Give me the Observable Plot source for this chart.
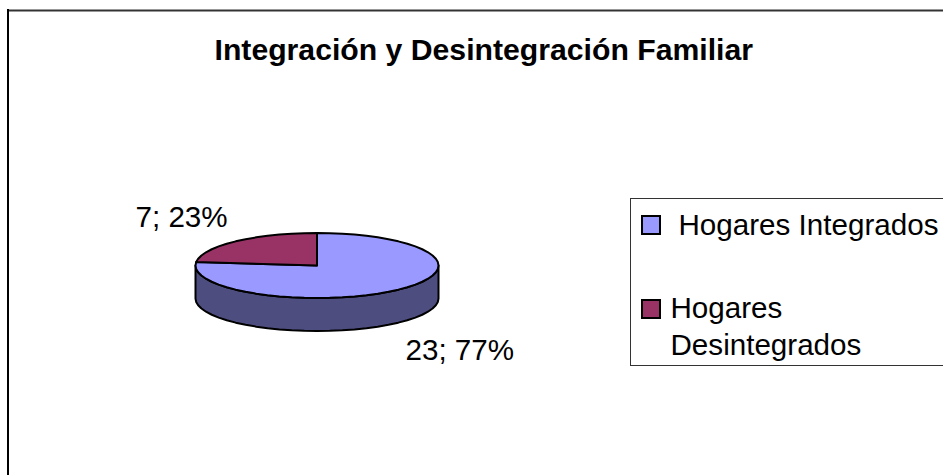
<!DOCTYPE html>
<html>
<head>
<meta charset="utf-8">
<script src="https://cdn.jsdelivr.net/npm/d3@7"></script>
<script src="https://cdn.jsdelivr.net/npm/@observablehq/plot@0.6"></script>
<style>html,body{margin:0;padding:0;background:#fff}svg{display:block}</style>
</head>
<body>
<div id="chart"></div>
<script>
const chartTitle = "Integración y Desintegración Familiar";
const categories = ["Hogares Integrados", "Hogares Desintegrados"];
const values = [23, 7];
const colors = ["#9999ff", "#993366"];
const wallColor = "#4d4d80";

const W = 943, H = 475, FONT = "Liberation Sans, Arial, sans-serif";
const cx = 316.5, cy = 265, rx = 121.5, ry = 32.5, depth = 33, step = 6;
const total = d3.sum(values);
const px = a => cx + rx * Math.sin(a * Math.PI / 180);
const py = a => cy - ry * Math.cos(a * Math.PI / 180);

function arc(a0, a1) {
  const out = [];
  const n = Math.max(1, Math.round((a1 - a0) / step));
  for (let i = 0; i <= n; i++) {
    const a = a0 + (a1 - a0) * i / n;
    out.push({x: px(a), y: py(a)});
  }
  return out;
}
let start = 0;
const slices = values.map((v, i) => {
  const a0 = start, a1 = start + v / total * 360;
  start = a1;
  const rim = arc(a0, a1);
  return {i, pts: [{x: cx, y: cy}, ...rim, {x: cx, y: cy}]};
});
const front = arc(90, 270);
const wall = [...front, ...front.slice().reverse().map(p => ({x: p.x, y: p.y + depth})), front[0]];

const labelText = values.map(v => `${v}; ${Math.round(v / total * 100)}%`);
const labelPos = [{x: 405, y: 359}, {x: 135, y: 226}];

const xy = {x: "x", y: "y"};
const textOpts = {fontSize: 29.6, fontFamily: FONT, fill: "#000", textAnchor: "start", lineAnchor: "bottom"};

const chart = Plot.plot({
  width: W, height: H, margin: 0,
  x: {domain: [0, W], range: [0, W], axis: null},
  y: {domain: [0, H], range: [0, H], axis: null},
  style: {background: "#fff", fontFamily: FONT},
  marks: [
    Plot.ruleY([10], {x1: 7, x2: W, stroke: "#333", strokeWidth: 2}),
    Plot.ruleX([7.5], {y1: 9, y2: H, stroke: "#000", strokeWidth: 2}),
    Plot.text([chartTitle], {x: 214, y: 59, text: d => d, ...textOpts, fontSize: 30.2, fontWeight: "bold"}),
    Plot.line(wall, {...xy, fill: wallColor, stroke: "#000", strokeWidth: 2, strokeLinejoin: "round"}),
    ...slices.map(s => Plot.line(s.pts, {...xy, fill: colors[s.i], stroke: "#000", strokeWidth: 2, strokeLinejoin: "round"})),
    Plot.text(labelText, {x: (d, i) => labelPos[i].x, y: (d, i) => labelPos[i].y, text: d => d, ...textOpts}),
    Plot.rect([0], {x1: 630.5, x2: W + 5, y1: 198.5, y2: 365.5, fill: "#fff", stroke: "#333", strokeWidth: 1}),
    Plot.rect(colors, {x1: 642, x2: 660, y1: (d, i) => [216, 300][i], y2: (d, i) => [234, 318][i], fill: d => d, stroke: "#000", strokeWidth: 2}),
    Plot.text([categories[0]], {x: 678, y: 234, text: d => d, ...textOpts}),
    Plot.text(categories[1].split(" "), {x: 670, y: (d, i) => [317.5, 354.5][i], text: d => d, ...textOpts})
  ]
});
document.getElementById("chart").append(chart);
</script>
</body>
</html>
